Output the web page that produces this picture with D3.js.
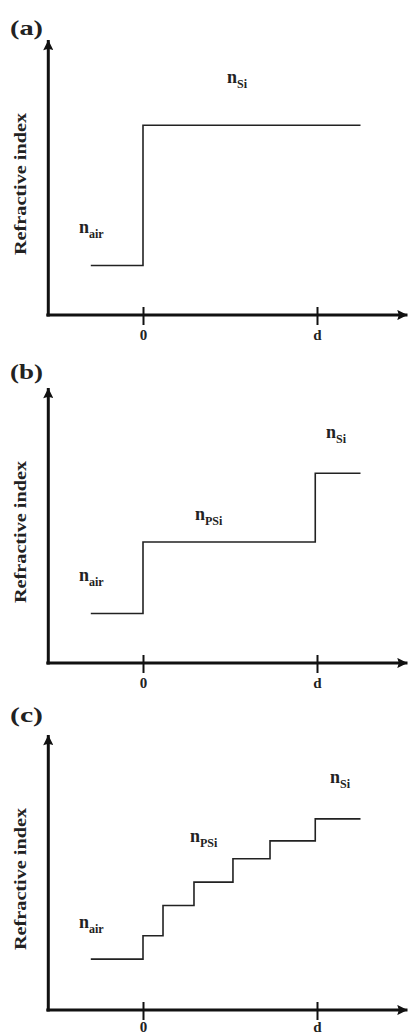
<!DOCTYPE html>
<html>
<head>
<meta charset="utf-8">
<script src="https://cdn.jsdelivr.net/npm/d3@7"></script>
<style>
  body { margin: 0; background: #fff; }
  svg { display: block; }
  text { font-family: "Liberation Serif", "DejaVu Serif", serif; font-weight: bold; fill: #222; }
</style>
</head>
<body>
<svg id="chart"></svg>
<script>
// panel letters and tick labels
const panels = ['(a)', '(b)', '(c)'];
const tickValues = [0, 1];
const tickLabels = ['0', 'd'];

// refractive-index profiles: position (0 = surface, 1 = d) and index level (relative)
const profileX = [
    [-0.30, 0, 1.25],
    [-0.30, 0, 0.99, 1.25],
    [-0.30, 0, 0.115, 0.293, 0.517, 0.73, 0.99, 1.25]
];
const profileY = [
    [0.18, 0.69, 0.69],
    [0.18, 0.44, 0.69, 0.69],
    [0.185, 0.27, 0.38, 0.465, 0.55, 0.615, 0.695, 0.695]
];

// annotation labels: main letter, subscript, x, y (data units)
const labelMain = [['n', 'n'], ['n', 'n', 'n'], ['n', 'n', 'n']];
const labelSub = [['air', 'Si'], ['air', 'PSi', 'Si'], ['air', 'PSi', 'Si']];
const labelX = [[-0.368, 0.483], [-0.368, 0.299, 1.052], [-0.368, 0.27, 1.075]];
const labelY = [[0.298, 0.844], [0.298, 0.52, 0.818], [0.298, 0.611, 0.825]];

const width = 410, height = 1034;
const axisYs = [315, 663, 1010];
const letterYs = [35, 379, 722];
const plotH = 275;

const svg = d3.select('#chart').attr('width', width).attr('height', height);

// arrow heads
const defs = svg.append('defs');
defs.append('marker')
    .attr('id', 'arrow')
    .attr('viewBox', '0 0 10 10')
    .attr('refX', 10).attr('refY', 5)
    .attr('markerWidth', 4.6).attr('markerHeight', 3.4)
    .attr('markerUnits', 'strokeWidth')
    .attr('orient', 'auto')
    .append('path')
    .attr('d', 'M0,0 L10,5 L0,10 L1.5,5 Z')
    .attr('fill', '#111');

const x = d3.scaleLinear().domain([0, 1]).range([143, 317]);
const xMin = -0.55, xMax = 1.52;

panels.forEach(function (p, i) {
    const base = axisYs[i];
    const y = d3.scaleLinear().domain([0, 1]).range([base, base - plotH]);
    const g = svg.append('g').attr('class', 'panel');

    // panel letter
    g.append('text')
        .attr('x', 10).attr('y', letterYs[i])
        .attr('font-size', 21)
        .attr('textLength', 33).attr('lengthAdjust', 'spacingAndGlyphs')
        .attr('fill', '#333')
        .text(p);

    // y axis with arrow
    g.append('line')
        .attr('x1', x(xMin) + 1).attr('x2', x(xMin) + 1)
        .attr('y1', y(0) + 1.5).attr('y2', y(1))
        .attr('stroke', '#111').attr('stroke-width', 3)
        .attr('marker-end', 'url(#arrow)');

    // x axis
    const xAxis = d3.axisBottom(x).tickValues(tickValues)
        .tickFormat(function (d, k) { return tickLabels[k]; })
        .tickSizeOuter(0).tickSizeInner(10).tickPadding(5);
    const ax = g.append('g')
        .attr('transform', 'translate(0,' + base + ')')
        .call(xAxis);
    ax.select('.domain').remove();
    ax.selectAll('.tick line')
        .attr('y1', -8).attr('y2', 10)
        .attr('stroke', '#111').attr('stroke-width', 2);
    ax.selectAll('.tick text')
        .attr('font-family', '"Liberation Serif", serif')
        .attr('font-weight', 'bold')
        .attr('font-size', 15)
        .attr('fill', '#333')
        .attr('y', i === 2 ? 11 : 14);
    g.append('line')
        .attr('x1', x(xMin) - 1).attr('x2', x(xMax))
        .attr('y1', y(0)).attr('y2', y(0))
        .attr('stroke', '#111').attr('stroke-width', 3)
        .attr('marker-end', 'url(#arrow)');

    // axis title
    g.append('text')
        .attr('transform', 'translate(26,' + (base - 131) + ') rotate(-90)')
        .attr('text-anchor', 'middle')
        .attr('font-size', 16)
        .attr('textLength', 142).attr('lengthAdjust', 'spacingAndGlyphs')
        .attr('fill', '#333')
        .text('Refractive index');

    // step profile
    const pts = profileX[i].map(function (v, k) { return [v, profileY[i][k]]; });
    g.append('path')
        .datum(pts)
        .attr('fill', 'none')
        .attr('stroke', '#222')
        .attr('stroke-width', 1.6)
        .attr('d', d3.line()
            .x(function (d) { return x(d[0]); })
            .y(function (d) { return y(d[1]); })
            .curve(d3.curveStepAfter));

    // labels
    labelMain[i].forEach(function (m, k) {
        const t = g.append('text')
            .attr('x', x(labelX[i][k]))
            .attr('y', y(labelY[i][k]))
            .attr('font-size', 18)
            .attr('fill', '#333');
        t.append('tspan').text(m);
        t.append('tspan')
            .attr('dy', 5)
            .attr('font-size', 12)
            .text(labelSub[i][k]);
    });
});
</script>
</body>
</html>
